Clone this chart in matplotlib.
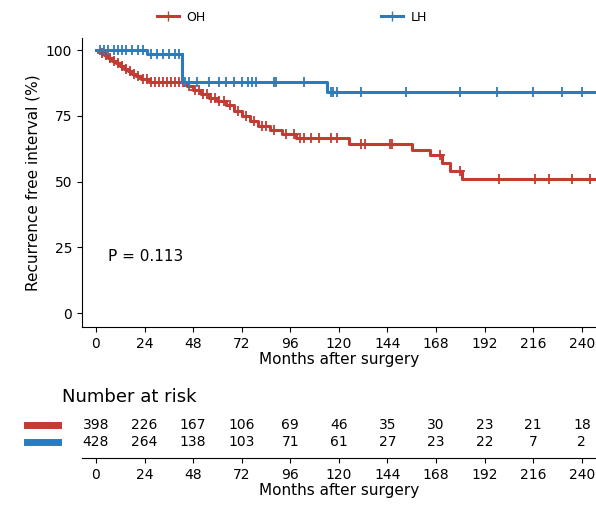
import matplotlib.pyplot as plt
from matplotlib.lines import Line2D

# step curves (months, survival %)
oh_t = [0, 2, 4, 6, 8, 10, 12, 14, 16, 18, 20, 22, 26, 45, 48, 52, 56, 60, 64, 68, 72, 76, 80, 86, 92, 99, 125, 156, 165, 171, 175, 181]
oh_s = [100, 99, 98, 97, 96, 95, 94, 93, 92, 91, 90, 89, 88, 86.5, 85, 83.5, 82, 80.5, 79, 77, 75, 73, 71, 69.5, 68, 66.5, 64.5, 62, 60, 57, 54, 51]
oh_cens = [3, 5, 7, 9, 11, 13, 15, 17, 19, 21, 23, 25, 27, 29, 31, 33, 35, 37, 39, 41, 43, 46, 49, 51, 53, 55, 57, 59, 61, 63, 66, 70, 74, 78, 82, 84, 88, 94, 98, 101, 103, 106, 110, 116, 119, 131, 133, 145, 146, 170, 180, 199, 217, 224, 235, 244]

lh_t = [0, 25, 42.5, 114]
lh_s = [100, 98.5, 88, 84]
lh_cens = [2, 4, 6, 9, 11, 13, 15, 18, 21, 23, 27, 30, 33, 36, 39, 41, 44, 46, 50, 56, 61, 64, 68, 72, 75, 77, 79, 88, 89, 103, 116, 117, 119, 131, 153, 180, 198, 216, 230, 240]

at_risk_months = [0, 24, 48, 72, 96, 120, 144, 168, 192, 216, 240]
oh_risk = [398, 226, 167, 106, 69, 46, 35, 30, 23, 21, 18]
lh_risk = [428, 264, 138, 103, 71, 61, 27, 23, 22, 7, 2]

red = '#c33b32'
blue = '#2b7bbd'


def surv_at(times, vals, t):
    v = vals[0]
    for ti, vi in zip(times, vals):
        if ti <= t:
            v = vi
    return v


fig = plt.figure(figsize=(5.96, 5.08), dpi=100)
ax = fig.add_axes([0.1376, 0.356, 0.8624, 0.569])

for t, s, cens, c in [(oh_t, oh_s, oh_cens, red), (lh_t, lh_s, lh_cens, blue)]:
    ax.step(t + [250], s + [s[-1]], where='post', color=c, lw=2.2)
    ax.plot(cens, [surv_at(t, s, x) for x in cens], '+', color=c, ms=7, mew=1.3)

ax.set_xlim(-6.9, 247)
ax.set_ylim(-5.3, 104.6)
ax.set_xticks(at_risk_months)
ax.set_yticks([0, 25, 50, 75, 100])
ax.spines['top'].set_visible(False)
ax.spines['right'].set_visible(False)
ax.tick_params(labelsize=10)
ax.set_xlabel('Months after surgery', fontsize=11, labelpad=1)
ax.set_ylabel('Recurrence free interval (%)', fontsize=11)
ax.text(6, 20, 'P = 0.113', fontsize=11)

handles = [Line2D([], [], color=red, lw=2.2, marker='+', ms=7),
           Line2D([], [], color=blue, lw=2.2, marker='+', ms=7)]
fig.legend(handles, ['OH', 'LH'], loc='center', bbox_to_anchor=(0.49, 0.966), ncol=2,
           frameon=False, fontsize=9, columnspacing=14, handlelength=1.8, handletextpad=0.6)

# risk table
ax2 = fig.add_axes([0.1376, 0.0984, 0.8624, 0.0906])
ax2.set_xlim(-6.9, 247)
ax2.set_ylim(0, 1)
for sp in ['top', 'right', 'left']:
    ax2.spines[sp].set_visible(False)
ax2.set_yticks([])
ax2.set_xticks(at_risk_months)
ax2.tick_params(labelsize=10)
ax2.set_xlabel('Months after surgery', fontsize=11, labelpad=1)
for m, a, b in zip(at_risk_months, oh_risk, lh_risk):
    ax2.text(m, 0.72, str(a), ha='center', va='center', fontsize=10)
    ax2.text(m, 0.35, str(b), ha='center', va='center', fontsize=10)
ax2.plot([-34, -19], [0.72, 0.72], color=red, lw=5, clip_on=False)
ax2.plot([-34, -19], [0.35, 0.35], color=blue, lw=5, clip_on=False)
fig.text(0.104, 0.218, 'Number at risk', fontsize=13, va='center')

fig.savefig('out.png', dpi=100)
